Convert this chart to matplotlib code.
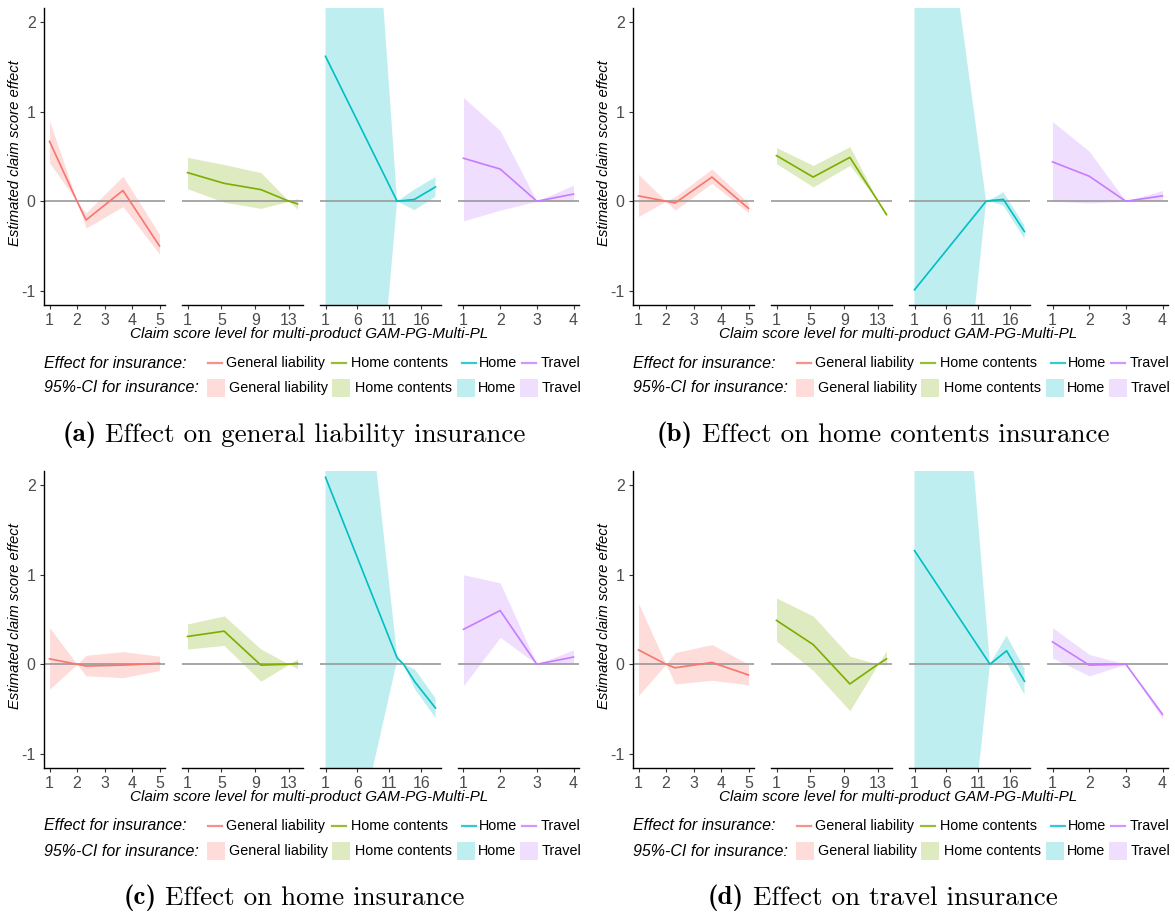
# Multi-product claim score effects, 4 panels x 4 insurance facets

import matplotlib.pyplot as plt
from matplotlib.lines import Line2D
from matplotlib.patches import Rectangle

plt.rcParams['font.family'] = ['Liberation Sans', 'DejaVu Sans']

INSURANCES = ['General liability', 'Home contents', 'Home', 'Travel']
COLORS = ['#F8766D', '#7CAE00', '#00BFC4', '#C77CFF']
TICKS = [[1, 2, 3, 4, 5], [1, 5, 9, 13], [1, 6, 11, 16], [1, 2, 3, 4]]
X_RANGE = [(1, 5), (1, 14), (1, 18.2), (1, 4)]
CAPTIONS = [('(a)', 'Effect on general liability insurance'),
            ('(b)', 'Effect on home contents insurance'),
            ('(c)', 'Effect on home insurance'),
            ('(d)', 'Effect on travel insurance')]

# General liability facet (rows = panels a, b, c, d)
GL_X = [1, 2, 2.33, 3.67, 5]
GL_Y = [[0.67, 0.0, -0.21, 0.12, -0.50],
        [0.06, 0.0, -0.02, 0.27, -0.08],
        [0.06, 0.0, -0.02, -0.01, 0.01],
        [0.16, 0.0, -0.04, 0.02, -0.12]]
GL_LO = [[0.43, 0, -0.30, -0.06, -0.59],
         [-0.17, 0, -0.10, 0.20, -0.13],
         [-0.28, 0, -0.13, -0.15, -0.07],
         [-0.35, 0, -0.22, -0.18, -0.23]]
GL_HI = [[0.90, 0, -0.13, 0.28, -0.37],
         [0.30, 0, 0.05, 0.36, -0.02],
         [0.41, 0, 0.10, 0.14, 0.09],
         [0.68, 0, 0.13, 0.22, 0.00]]

# Home contents facet
HC_X = [1, 5.33, 9.67, 13, 14]
HC_Y = [[0.32, 0.20, 0.13, 0.0, -0.03],
        [0.51, 0.27, 0.49, 0.0, -0.15],
        [0.31, 0.37, -0.01, 0.0, 0.01],
        [0.49, 0.22, -0.22, 0.0, 0.06]]
HC_LO = [[0.14, -0.01, -0.08, 0, -0.09],
         [0.42, 0.16, 0.40, 0, -0.17],
         [0.17, 0.21, -0.19, 0, -0.05],
         [0.26, -0.07, -0.52, 0, -0.01]]
HC_HI = [[0.49, 0.41, 0.32, 0, 0.03],
         [0.60, 0.40, 0.61, 0, -0.13],
         [0.45, 0.54, 0.17, 0, 0.06],
         [0.74, 0.54, 0.09, 0, 0.15]]

# Home facet (level positions differ slightly per panel)
HOME_X = [[1, 12.2, 14.9, 18.2],
          [1, 12.2, 13.2, 14.9, 18.2],
          [1, 12.2, 13.2, 15, 18.2],
          [1, 12.8, 15.4, 18.2]]
HOME_Y = [[1.62, 0.0, 0.02, 0.16],
          [-0.99, 0.0, 0.01, 0.02, -0.34],
          [2.09, 0.07, 0.0, -0.20, -0.49],
          [1.27, 0.0, 0.15, -0.19]]
HOME_LO = [[-9.1, 0, -0.10, 0.05],
           [-7.7, 0, -0.01, -0.05, -0.42],
           [-3.5, 0.04, 0, -0.28, -0.60],
           [-7.9, 0, 0.02, -0.34]]
HOME_HI = [[11.4, 0, 0.13, 0.27],
           [5.9, 0, 0.03, 0.10, -0.27],
           [7.3, 0.10, 0, -0.06, -0.38],
           [10.1, 0, 0.32, -0.05]]

# Travel facet
TR_X = [1, 2, 3, 4]
TR_Y = [[0.48, 0.36, 0.0, 0.08],
        [0.44, 0.28, 0.0, 0.06],
        [0.39, 0.60, 0.0, 0.08],
        [0.25, -0.01, 0.0, -0.56]]
TR_LO = [[-0.22, -0.10, 0, 0.00],
         [0.00, -0.02, 0, 0.01],
         [-0.24, 0.30, 0, 0.00],
         [0.07, -0.13, 0, -0.61]]
TR_HI = [[1.16, 0.79, 0, 0.18],
         [0.89, 0.56, 0, 0.12],
         [1.00, 0.91, 0, 0.16],
         [0.41, 0.11, 0, -0.55]]

FACETS = [(GL_X, GL_Y, GL_LO, GL_HI), (HC_X, HC_Y, HC_LO, HC_HI),
          (HOME_X, HOME_Y, HOME_LO, HOME_HI), (TR_X, TR_Y, TR_LO, TR_HI)]

W, H = 1175, 923
fig = plt.figure(figsize=(W / 100, H / 100), dpi=100)
renderer = fig.canvas.get_renderer()


def fx(px):
    return px / W


def fy(py):
    return 1 - py / H


ORIGINS = [(0, 0), (589, 0), (0, 463), (589, 463)]
FACET_L = [44, 182, 320, 458]
FACET_W = 121
TOP, BOTTOM = 8, 305
YLIM = (-1.16, 2.16)
GRAY = '#4D4D4D'

for p, (ox, oy) in enumerate(ORIGINS):
    for f in range(4):
        X, Y, LO, HI = FACETS[f]
        x = X[p] if isinstance(X[0], list) else X
        ax = fig.add_axes([fx(ox + FACET_L[f]), fy(oy + BOTTOM),
                           FACET_W / W, (BOTTOM - TOP) / H])
        ax.fill_between(x, LO[p], HI[p], color=COLORS[f], alpha=0.25, lw=0)
        ax.axhline(0, color='#999999', lw=1.2)
        ax.plot(x, Y[p], color=COLORS[f], lw=1.2)
        a, b = X_RANGE[f]
        pad = 0.05 * (b - a)
        ax.set_xlim(a - pad, b + pad)
        ax.set_ylim(*YLIM)
        ax.set_xticks(TICKS[f])
        ax.set_xticklabels([str(t) for t in TICKS[f]])
        for s in ['top', 'right']:
            ax.spines[s].set_visible(False)
        ax.spines['bottom'].set_color('black')
        ax.spines['bottom'].set_linewidth(1.0)
        ax.tick_params(axis='both', length=3, width=0.8, color='#333333',
                       labelsize=11.5, labelcolor=GRAY, pad=3)
        if f == 0:
            ax.set_yticks([-1, 0, 1, 2])
            ax.set_yticklabels(['-1', '0', '1', '2'])
            ax.spines['left'].set_color('black')
            ax.spines['left'].set_linewidth(1.0)
        else:
            ax.spines['left'].set_visible(False)
            ax.set_yticks([])

    # axis titles
    fig.text(fx(ox + 15), fy(oy + 153), 'Estimated claim score effect',
             rotation=90, ha='center', va='center', fontsize=10.7, style='italic')
    fig.text(fx(ox + 309), fy(oy + 334), 'Claim score level for multi-product GAM-PG-Multi-PL',
             ha='center', va='center', fontsize=11, style='italic')

    # legend row 1: lines
    ry = oy + 363
    fig.text(fx(ox + 44), fy(ry), 'Effect for insurance:', ha='left', va='center',
             fontsize=11.5, style='italic')
    key_x = [208, 332, 462, 522]
    lab_x = [226, 351, 479, 541]
    for i in range(4):
        fig.add_artist(Line2D([fx(ox + key_x[i]), fx(ox + key_x[i] + 14)], [fy(ry), fy(ry)],
                              color=COLORS[i], lw=1.6, alpha=0.8))
        fig.text(fx(ox + lab_x[i]), fy(ry), INSURANCES[i], ha='left', va='center', fontsize=10.4)

    # legend row 2: ribbons
    ry = oy + 388
    fig.text(fx(ox + 44), fy(ry), '95%-CI for insurance:', ha='left', va='center',
             fontsize=11.5, style='italic')
    sq_x = [207, 332, 457, 520]
    lab_x = [229, 355, 478, 542]
    for i in range(4):
        fig.add_artist(Rectangle((fx(ox + sq_x[i]), fy(ry + 9)), 18 / W, 18 / H,
                                 color=COLORS[i], alpha=0.25, lw=0))
        fig.text(fx(ox + lab_x[i]), fy(ry), INSURANCES[i], ha='left', va='center', fontsize=10.4)

    # caption: bold tag + regular text, centred together
    tag, cap = CAPTIONS[p]
    t1 = fig.text(0, fy(oy + 435), tag, ha='left', va='center', fontsize=19.5, family='cmb10')
    t2 = fig.text(0, fy(oy + 435), ' ' + cap, ha='left', va='center', fontsize=19.5,
                  family='cmr10')
    w1 = t1.get_window_extent(renderer).width
    w2 = t2.get_window_extent(renderer).width
    x0 = ox + 294 - (w1 + w2) / 2
    t1.set_x(fx(x0))
    t2.set_x(fx(x0 + w1))

plt.savefig('out.png', dpi=100)
